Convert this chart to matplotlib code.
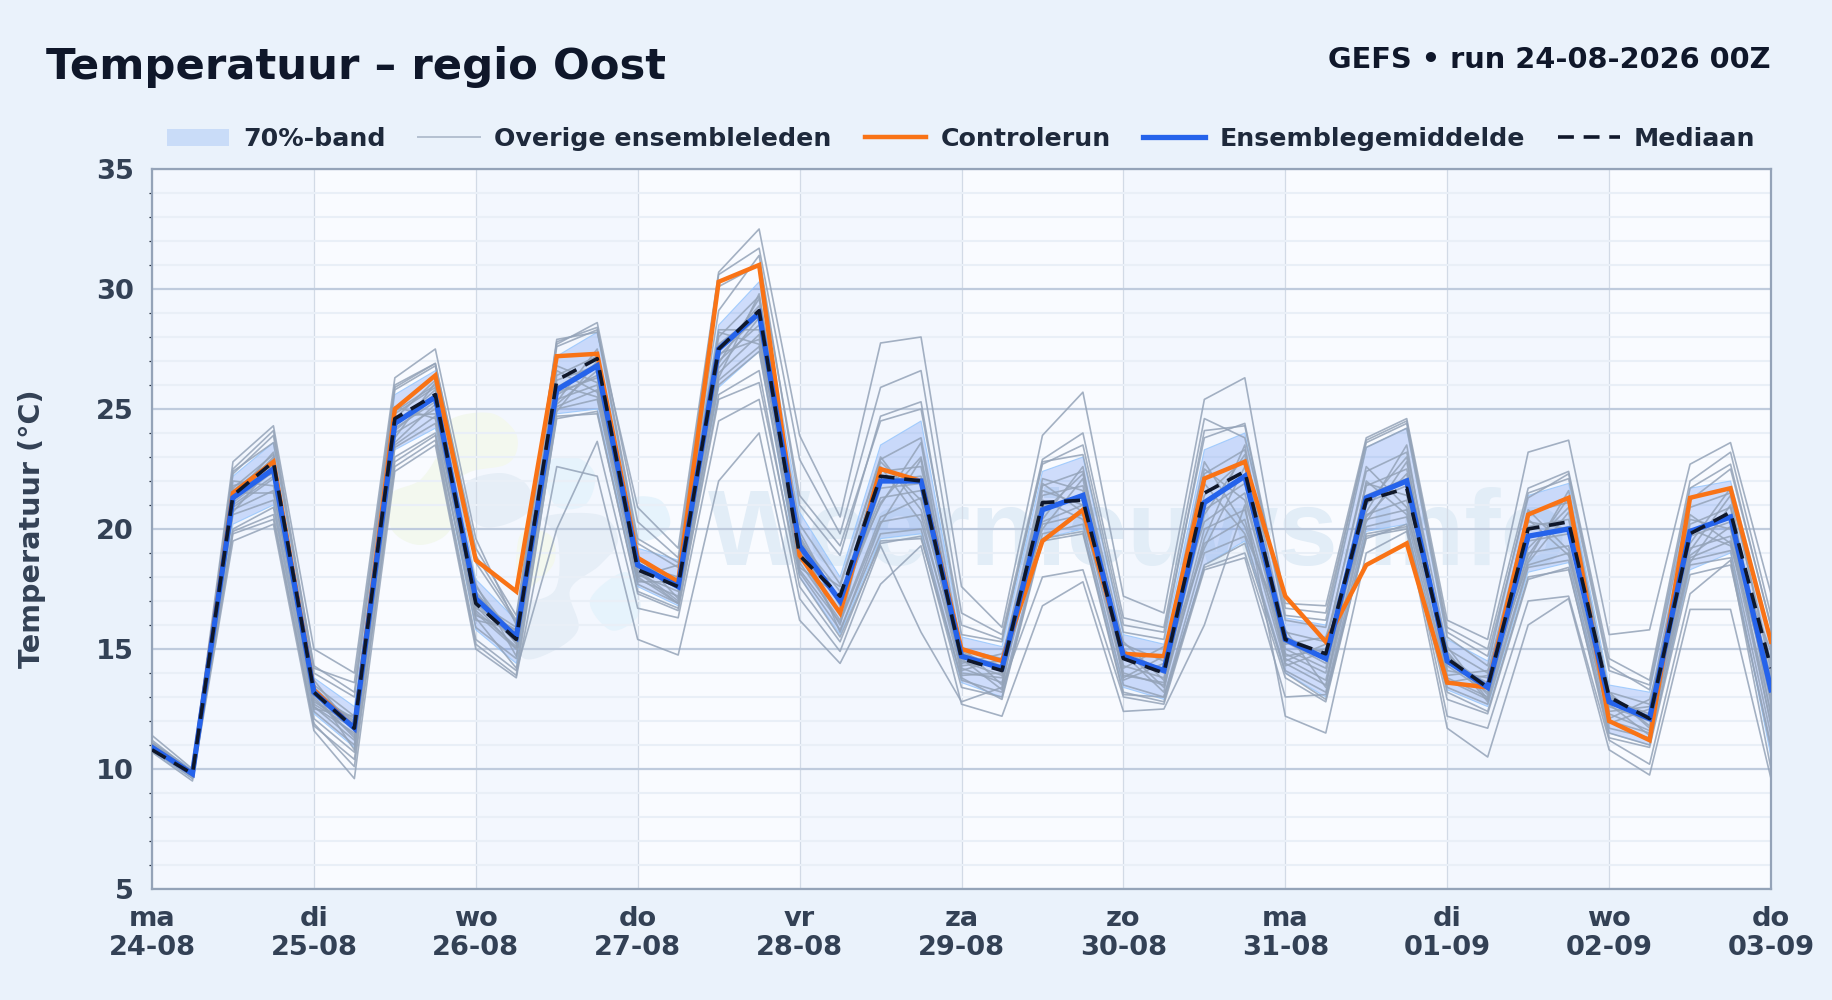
import matplotlib
matplotlib.use("Agg")
import matplotlib.pyplot as plt
import numpy as np
from matplotlib.lines import Line2D
from matplotlib.patches import Patch, Polygon
from matplotlib.transforms import Affine2D

# --- DATA (6-uurs stappen, 10 dagen) ---
day_names = ["ma", "di", "wo", "do", "vr", "za", "zo", "ma", "di", "wo", "do"]
day_dates = ["24-08", "25-08", "26-08", "27-08", "28-08", "29-08", "30-08", "31-08", "01-09", "02-09", "03-09"]

mean = [10.9, 9.8, 21.3, 22.5, 13.2, 11.7, 24.4, 25.5, 17.1, 15.5, 25.8, 26.8, 18.5, 17.6, 27.5, 29.0, 19.3, 17.0, 22.0, 22.0,
        14.7, 14.2, 20.8, 21.4, 14.7, 14.1, 21.1, 22.2, 15.4, 14.6, 21.3, 22.0, 14.5, 13.4, 19.7, 20.0, 12.8, 12.1, 19.9, 20.5, 13.3]
median = [10.8, 9.8, 21.4, 22.8, 13.2, 11.7, 24.6, 25.6, 16.9, 15.4, 26.2, 27.1, 18.3, 17.6, 27.5, 29.1, 18.9, 17.2, 22.2, 22.0,
          14.6, 14.1, 21.1, 21.2, 14.6, 14.0, 21.5, 22.4, 15.4, 14.8, 21.2, 21.7, 14.6, 13.4, 20.0, 20.3, 13.0, 12.1, 19.8, 20.7, 14.2]
control = [10.9, 9.8, 21.5, 22.8, 13.3, 11.7, 25.0, 26.4, 18.7, 17.4, 27.2, 27.3, 18.8, 17.8, 30.3, 31.0, 18.9, 16.5, 22.5, 22.0,
           15.0, 14.5, 19.5, 20.8, 14.8, 14.7, 22.1, 22.8, 17.2, 15.3, 18.5, 19.4, 13.6, 13.4, 20.6, 21.3, 12.0, 11.2, 21.3, 21.7, 15.3]
band_low = [10.7, 9.6, 20.2, 21.0, 12.3, 10.9, 23.3, 24.2, 15.8, 14.4, 24.8, 25.0, 17.6, 16.8, 25.9, 27.4, 18.0, 15.6, 19.6, 19.8,
            13.6, 13.0, 19.6, 20.0, 13.4, 12.9, 18.5, 19.5, 14.0, 13.0, 19.9, 20.2, 13.3, 12.6, 18.2, 18.6, 11.5, 11.0, 18.3, 19.0, 10.5]
band_high = [11.1, 10.0, 22.2, 23.6, 13.8, 12.6, 25.6, 26.6, 17.9, 16.2, 27.2, 28.2, 19.2, 18.7, 28.5, 30.3, 20.7, 18.0, 23.5, 24.5,
             15.5, 15.1, 22.4, 23.0, 15.6, 15.2, 23.3, 24.0, 16.3, 16.0, 23.4, 24.2, 15.4, 14.5, 21.4, 21.9, 13.5, 13.2, 21.7, 22.0, 15.5]

members = [
    [11.4,10.0,22.8,24.3,15.0,14.0,26.3,27.5,19.6,16.0,27.9,28.2,20.9,19.2,30.7,32.5,23.9,20.5,27.75,28.0,17.6,15.9,23.9,25.7,17.2,16.5,25.4,26.3,16.9,16.8,23.8,24.6,16.2,15.4,23.2,23.7,15.6,15.8,22.7,23.6,17.3],
    [11.2,9.9,22.5,24.1,14.2,13.6,26.0,26.9,19.2,16.4,27.7,28.6,20.3,18.8,30.6,31.7,22.9,19.8,25.9,26.6,16.5,15.6,22.9,24.0,16.3,15.9,24.6,23.8,16.7,16.5,23.6,24.4,15.9,15.0,21.7,22.4,14.6,13.7,22.0,23.2,16.4],
    [10.7,9.5,19.5,20.2,11.6,9.6,22.4,23.5,15.0,13.8,22.6,22.2,15.4,14.75,22.0,24.0,16.2,14.4,17.7,19.3,12.7,12.2,16.8,17.8,12.4,12.5,16.0,21.0,12.2,11.5,19.0,19.9,11.7,10.5,16.0,17.1,10.8,9.75,16.65,16.65,9.6],
    [10.8,9.6,19.8,20.4,11.9,10.1,22.8,23.9,15.4,14.1,20.0,23.65,16.7,16.3,24.5,25.4,17.1,14.9,19.3,15.7,12.8,13.4,18.0,18.3,13.0,12.7,18.3,18.8,13.0,13.1,19.6,20.2,12.2,11.7,17.0,17.2,11.2,10.2,17.3,18.7,10.0],
    [11.1,9.9,22.3,23.9,14.0,13.0,25.8,26.8,18.6,16.1,27.6,28.3,19.4,18.4,29.1,31.4,21.0,18.9,24.7,25.3,15.6,15.3,22.8,23.1,15.7,15.4,24.1,24.3,16.2,15.9,23.4,24.2,15.5,14.3,21.5,22.1,14.1,13.5,21.7,22.7,15.9],
    [10.9,9.7,20.0,20.9,12.1,10.7,23.0,24.0,16.3,14.2,24.6,24.9,17.3,16.6,25.4,26.1,18.0,15.5,19.4,19.7,13.4,13.0,19.6,19.9,13.2,12.8,18.5,19.4,14.0,12.9,19.8,20.1,13.2,12.4,18.0,18.3,11.5,11.0,18.5,18.8,10.8],
    [10.8,9.7,20.6,21.2,12.4,11.0,23.4,24.4,15.9,14.6,25.0,25.4,17.7,16.9,26.0,27.4,18.2,15.8,19.8,20.0,13.7,13.2,19.8,20.2,13.5,13.0,19.0,19.7,14.1,13.2,20.1,20.5,13.4,12.7,18.4,18.7,11.7,11.3,18.7,19.1,11.4],
    [11.1,9.9,21.2,23.0,12.6,11.2,25.1,24.6,17.0,15.9,25.3,27.5,18.0,18.5,28.2,27.7,19.5,17.4,21.0,23.6,14.1,14.6,20.4,22.6,13.8,14.7,22.8,20.1,15.2,15.5,20.7,23.5,13.9,14.1,18.9,21.3,13.2,11.7,20.6,19.4,14.9],
    [10.9,9.8,22.0,21.8,13.7,11.6,23.8,26.1,16.2,15.8,26.6,25.7,18.9,17.1,26.9,29.6,18.7,17.6,23.0,20.8,15.1,13.5,21.9,20.7,15.0,13.4,19.6,23.5,14.5,15.2,22.6,20.9,15.1,12.9,20.8,19.1,12.1,12.9,19.1,21.4,12.2],
    [11.0,9.9,21.6,22.9,13.2,12.0,24.8,25.9,17.4,15.2,26.2,26.8,18.4,17.7,27.7,29.0,19.9,16.8,22.4,22.6,14.8,14.3,21.4,21.8,14.6,14.2,21.4,22.9,15.4,14.7,21.8,22.5,14.7,13.5,20.1,20.4,12.9,12.3,20.2,20.9,13.6],
    [10.8,9.7,21.1,22.4,12.9,11.4,24.2,25.3,16.8,15.0,25.7,26.3,18.1,17.4,27.0,28.5,19.1,16.5,21.7,21.9,14.5,13.9,20.9,21.4,14.3,13.8,20.8,21.9,15.0,14.2,21.1,21.8,14.3,13.2,19.5,19.8,12.6,12.0,19.7,20.3,13.0],
    [10.9,9.8,21.4,22.6,13.4,11.9,24.5,25.6,17.2,15.5,25.9,26.9,18.6,17.6,27.4,29.3,19.3,17.1,22.0,22.2,14.7,14.2,21.0,21.2,14.9,14.1,21.1,22.2,15.5,14.8,21.4,22.1,14.6,13.4,19.7,20.1,12.9,12.2,19.9,20.6,13.8],
    [11.0,9.8,20.9,22.1,13.0,11.3,24.0,25.0,16.6,15.1,25.4,26.0,17.9,17.2,26.5,28.1,18.6,16.2,20.5,21.3,14.2,13.6,20.3,21.0,14.0,13.5,20.0,20.8,14.6,13.7,20.6,21.2,13.8,13.0,19.0,19.3,12.3,11.6,19.2,19.7,12.3],
    [10.9,9.7,21.7,23.1,13.5,12.2,24.9,26.0,17.6,15.4,26.4,27.2,18.7,17.9,28.0,29.7,20.2,17.7,22.9,23.8,15.0,14.6,21.8,22.4,15.2,14.5,22.3,23.3,15.7,15.3,22.4,23.2,15.0,14.0,20.7,21.1,13.2,12.7,20.9,21.5,14.4],
    [11.0,9.9,21.0,22.2,12.7,11.7,23.6,25.2,17.7,14.7,25.2,26.6,17.8,17.8,26.7,28.8,18.9,16.0,22.6,20.3,14.4,14.8,20.0,22.1,13.7,14.4,19.2,22.6,14.3,14.9,20.3,22.8,14.1,13.8,18.6,20.7,11.9,12.5,18.9,20.1,11.8],
    [10.8,9.8,21.5,21.5,13.3,10.8,24.7,24.8,16.4,15.7,26.0,25.5,18.2,16.9,27.3,27.9,19.7,15.7,20.2,22.9,13.9,14.0,21.2,20.4,14.8,13.2,21.9,19.8,15.8,13.4,22.0,20.6,14.9,12.8,20.4,18.9,12.7,11.4,20.0,19.3,13.4],
    [11.1,9.7,20.7,22.7,12.5,12.2,24.3,25.8,16.9,15.3,24.9,27.0,18.3,17.0,28.3,28.3,18.4,17.2,21.3,21.6,14.6,13.3,22.1,21.6,14.2,15.1,20.3,21.5,14.8,14.0,21.0,23.0,13.6,13.9,19.2,20.9,13.0,12.1,18.6,21.0,12.7],
    [10.9,9.9,22.4,23.6,14.3,13.2,25.9,26.9,18.9,16.2,27.8,28.4,19.6,18.6,30.1,31.0,21.4,19.3,24.5,25.0,16.0,15.4,22.7,23.5,16.0,15.7,23.8,24.4,16.4,16.2,23.7,24.5,15.7,14.7,21.3,22.3,14.3,13.3,21.2,22.5,16.0],
    [10.8,9.7,19.9,20.6,11.8,10.4,22.6,23.7,15.2,13.9,24.7,24.8,17.4,16.7,25.6,26.6,17.6,15.3,19.5,19.6,13.8,12.9,19.5,19.8,13.1,13.0,18.4,19.0,13.8,12.8,19.7,20.0,12.9,12.3,17.9,18.4,11.3,10.9,18.1,18.5,11.0],
    [11.0,9.8,21.8,22.3,13.1,12.1,24.1,25.5,17.3,15.6,25.6,26.4,18.8,17.5,27.2,28.9,19.7,16.9,21.1,23.0,14.9,14.1,20.7,22.3,14.7,14.0,22.5,21.2,15.3,14.4,21.9,21.4,14.8,13.1,20.3,20.0,12.4,12.6,20.4,20.0,12.9],
    [10.9,9.9,21.3,23.2,12.8,11.8,24.6,26.2,16.7,15.8,26.8,26.1,18.5,18.0,26.3,29.8,19.0,17.0,22.8,21.2,14.3,14.5,21.6,21.0,15.3,13.7,20.6,23.1,14.7,15.0,20.5,22.3,14.4,13.6,18.7,21.6,13.1,11.8,19.4,21.7,14.1],
    [11.0,9.7,20.8,21.6,12.6,11.5,23.5,24.7,16.5,15.0,25.1,25.8,18.0,16.9,26.2,27.6,18.3,16.1,20.3,20.6,14.0,13.8,20.2,20.6,13.9,13.6,19.4,20.4,14.4,13.5,20.4,20.8,13.7,12.9,18.5,19.0,12.0,11.5,18.8,19.5,11.9],
]

# --- KLEUREN ---
BG = "#eaf2fb"
DARK = "#0f172a"
LEGEND_TXT = "#1e293b"
TICK_TXT = "#334155"
MEMBER = "#94a3b8"
ORANGE = "#f97316"
BLUE = "#2563eb"

W, H = 1832, 1000
hours = np.arange(len(mean)) * 6 / 24  # dagen sinds start

fig = plt.figure(figsize=(W / 100, H / 100), dpi=100, facecolor=BG)
ax = fig.add_axes([152 / W, 1 - 889 / H, (1771 - 152) / W, (889 - 169) / H])
ax.set_facecolor("#f9fbff")
ax.set_xlim(0, 10)
ax.set_ylim(5, 35)

# dagbanden
for d in range(0, 10, 2):
    ax.axvspan(d, d + 1, facecolor="#f3f7fe", edgecolor="none", zorder=0.1)

# logo watermerk, getekend in pixels van de figuur
px = Affine2D().scale(1 / W, -1 / H).translate(0, 1) + fig.transFigure


def blob(points, color):
    pts = np.array(points, dtype=float)
    n = len(pts)
    out = []
    # gesloten Catmull-Rom zodat de vlekken rond worden
    for i in range(n):
        p0, p1, p2, p3 = pts[i - 1], pts[i], pts[(i + 1) % n], pts[(i + 2) % n]
        for t in np.linspace(0, 1, 12, endpoint=False):
            out.append(0.5 * (2 * p1 + (p2 - p0) * t + (2 * p0 - 5 * p1 + 4 * p2 - p3) * t ** 2
                              + (3 * p1 - p0 - 3 * p2 + p3) * t ** 3))
    ax.add_patch(Polygon(out, closed=True, facecolor=color, edgecolor="none", transform=px, zorder=0.3))


blob([(450, 420), (490, 413), (514, 430), (517, 450), (505, 465), (470, 472), (450, 490), (450, 530), (420, 545),
      (392, 530), (390, 495), (420, 480), (440, 450)], "#f3f8ef")
blob([(465, 485), (500, 473), (527, 485), (530, 510), (500, 526), (475, 522)], "#e6eef7")
blob([(520, 535), (550, 535), (553, 565), (520, 590)], "#f3f8ef")
blob([(545, 517), (600, 515), (618, 540), (600, 565), (570, 590), (578, 630), (545, 655), (520, 655), (518, 610),
      (555, 590), (558, 540)], "#e6eef7")
blob([(545, 465), (575, 457), (595, 475), (585, 505), (555, 505)], "#e6f3fc")
blob([(630, 500), (660, 500), (670, 525), (650, 540), (630, 535)], "#e6f3fc")
blob([(590, 600), (625, 572), (640, 600), (635, 620), (610, 630)], "#e6f3fc")
ax.text(708, 565, "Weernieuws.info", transform=px, color="#e2edf7", fontsize=78, fontweight="bold",
        family="Liberation Sans", ha="left", va="baseline", zorder=0.4)

# raster
ax.set_axisbelow(True)
ax.set_yticks(np.arange(5, 36, 5))
ax.set_yticks(np.arange(5, 36, 1), minor=True)
ax.set_xticks(np.arange(0, 11))
ax.set_xticklabels([f"{a}\n{b}" for a, b in zip(day_names, day_dates)], linespacing=1.15)
ax.grid(True, which="major", axis="y", color="#bfcbdd", linewidth=1.6)
ax.grid(True, which="minor", axis="y", color="#e9eff7", linewidth=1.5)
ax.grid(True, which="major", axis="x", color="#d2dae6", linewidth=0.9)

for s in ax.spines.values():
    s.set_color("#94a3b8")
    s.set_linewidth(1.6)

ax.tick_params(axis="both", which="major", length=0, labelsize=19.6, labelcolor=TICK_TXT)
ax.tick_params(axis="y", which="major", pad=13)
ax.tick_params(axis="x", which="major", pad=12)
ax.tick_params(axis="y", which="minor", length=2.5, width=0.9, color="#1e293b")
for lab in ax.get_xticklabels() + ax.get_yticklabels():
    lab.set_fontweight("bold")

# data
ax.fill_between(hours, band_low, band_high, facecolor="#2563eb", alpha=0.2, edgecolor="none", zorder=2)
ax.plot(hours, band_low, color="#93c5fd", lw=0.8, alpha=0.8, zorder=2.1)
ax.plot(hours, band_high, color="#93c5fd", lw=0.8, alpha=0.8, zorder=2.1)
for m in members:
    ax.plot(hours, m, color=MEMBER, lw=1.2, alpha=0.85, zorder=3)
ax.plot(hours, control, color=ORANGE, lw=3.2, zorder=4, solid_joinstyle="miter")
ax.plot(hours, mean, color=BLUE, lw=3.8, zorder=5, solid_joinstyle="miter")
ax.plot(hours, median, color=DARK, lw=2.6, dashes=(4.4, 2.7), zorder=6)

# tekst
fig.text(46 / W, 1 - 79 / H, "Temperatuur – regio Oost", color=DARK, fontsize=31.2, fontweight="bold", ha="left", va="baseline")
fig.text(1771 / W, 1 - 68 / H, "GEFS • run 24-08-2026 00Z", color=DARK, fontsize=20.8, fontweight="bold", ha="right", va="baseline")
fig.text(32 / W, 1 - 529 / H, "Temperatuur (°C)", color=TICK_TXT, fontsize=20.6, fontweight="bold", rotation=90, ha="center", va="center")

handles = [
    Patch(facecolor="#c9dcf8", edgecolor="none"),
    Line2D([], [], color="#b4c0d0", lw=1.4),
    Line2D([], [], color=ORANGE, lw=3.2),
    Line2D([], [], color=BLUE, lw=3.8),
    Line2D([], [], color=DARK, lw=2.6, dashes=(4.4, 2.7)),
]
labels = ["70%-band", "Overige ensembleleden", "Controlerun", "Ensemblegemiddelde", "Mediaan"]
fig.legend(handles, labels, loc="center right", bbox_to_anchor=(1755 / W, 1 - 139 / H), ncol=5, frameon=False,
           prop={"size": 18.2, "weight": "bold"}, labelcolor=LEGEND_TXT, borderpad=0, borderaxespad=0,
           handlelength=2.45, handleheight=0.65, handletextpad=0.55, columnspacing=1.3)

fig.savefig("out.png", dpi=100, facecolor=BG)
plt.close(fig)
